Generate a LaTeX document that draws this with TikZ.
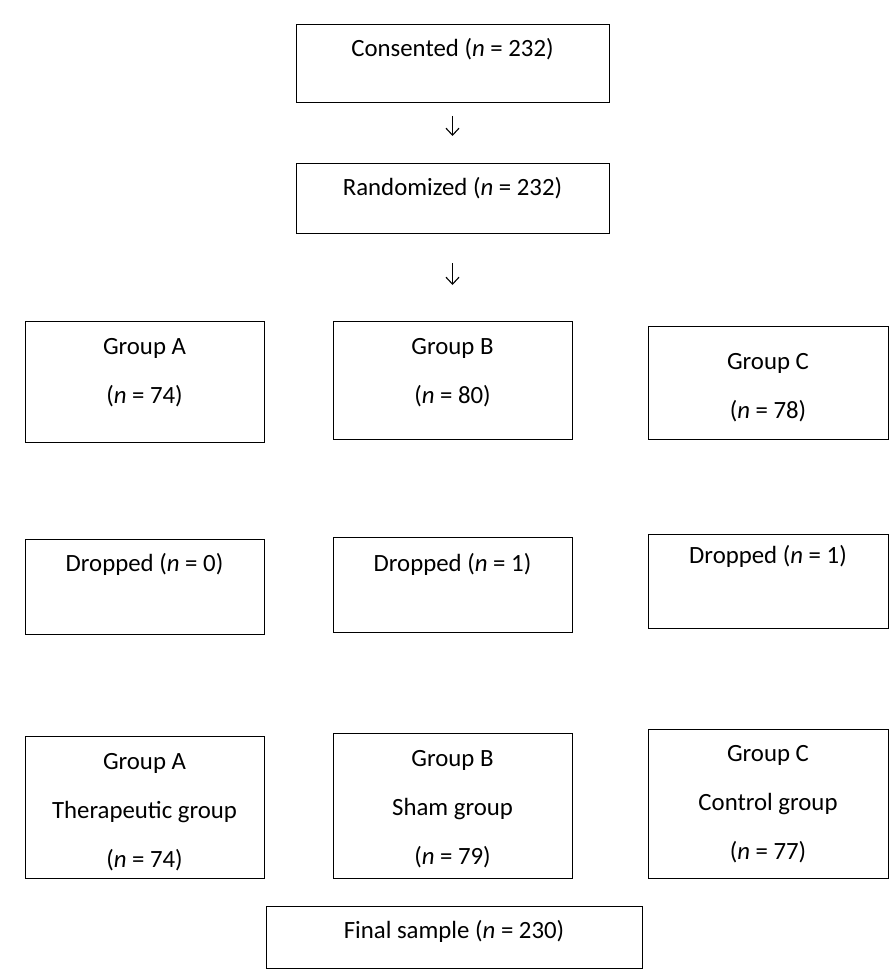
\documentclass[tikz,border=0pt]{standalone}
\usepackage{fontspec}
\setmainfont{Carlito}
\usepackage{tikz}
\usetikzlibrary{positioning, arrows.meta}

\tikzset{
    box/.style={draw, line width=0.5pt, align=flush center, inner sep=0pt,
        text width=119.5pt, text height=16pt,
        font=\fontsize{12.4pt}{24.5pt}\selectfont},
    arr/.style={-{Straight Barb[length=3.5pt, width=6.5pt]}, line width=0.55pt}
}

\begin{document}
\begin{tikzpicture}[x=0.5pt, y=0.5pt]
    \useasboundingbox (0,0) rectangle (891,-973);

    % Top of the flow (one box under the other)
    \node (cons) [box, anchor=north, text width=156.5pt, text depth=23pt] at (452.5,-24) {Consented (\textit{n} = 232)};
    \node (rand) [box, below=30pt of cons, text width=156.5pt, text depth=19pt] {Randomized (\textit{n} = 232)};

    % Allocated groups
    \node (gb1) [box, below=43.5pt of rand, text height=16.5pt, text depth=42.5pt] {Group B\\(\textit{n} = 80)};
    \node (ga1) [box, left=34pt of gb1, yshift=-0.75pt, text height=16.5pt, text depth=44pt] {Group A\\(\textit{n} = 74)};
    \node (gc1) [box, right=37.5pt of gb1, yshift=-1.25pt, text width=120pt, text height=21.5pt, text depth=35pt] {Group C\\(\textit{n} = 78)};

    % Drop-outs
    \node (db) [box, below=48.5pt of gb1, text height=17pt, text depth=30.5pt] {Dropped (\textit{n} = 1)};
    \node (da) [box, left=34pt of db, yshift=-1pt, text depth=31.5pt] {Dropped (\textit{n} = 0)};
    \node (dc) [box, right=37.5pt of db, yshift=1.75pt, text width=120pt, text height=14.5pt, text depth=32.5pt] {Dropped (\textit{n} = 1)};

    % Analysed groups
    \node (fb) [box, below=50pt of db, text height=16.5pt, text depth=56pt] {Group B\\Sham group\\(\textit{n} = 79)};
    \node (fa) [box, left=34pt of fb, yshift=-0.75pt, text height=16.5pt, text depth=54.5pt] {Group A\\Therapeutic group\\(\textit{n} = 74)};
    \node (fc) [box, right=37.5pt of fb, yshift=1pt, text width=120pt, text depth=58.5pt] {Group C\\Control group\\(\textit{n} = 77)};

    \node (fin) [box, below=13.5pt of fb, xshift=0.75pt, text width=188pt, text depth=15pt] {Final sample (\textit{n} = 230)};

    % Arrows
    \draw[arr, shorten <=6.5pt, shorten >=13.5pt] (cons) -- (rand);
    \draw[arr, shorten <=14.5pt, shorten >=18pt] (rand) -- (gb1);

\end{tikzpicture}
\end{document}
